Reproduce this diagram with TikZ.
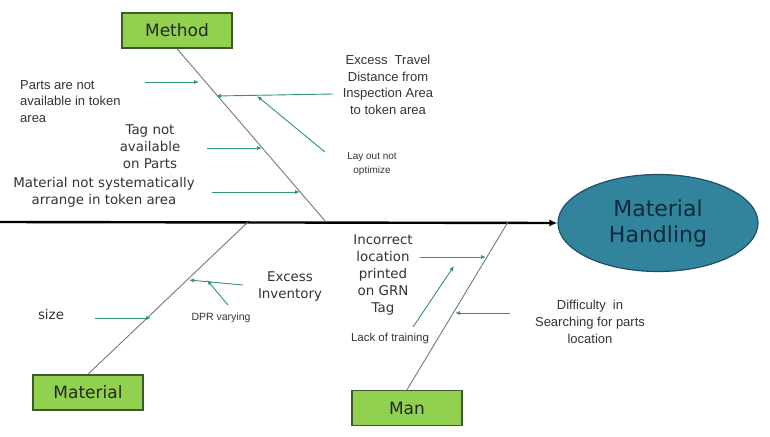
\documentclass[tikz,border=0pt]{standalone}
\usepackage{fontspec}
\setmainfont{Liberation Sans}
\newfontfamily\verd{DejaVu Sans}
\usetikzlibrary{arrows.meta,shapes.geometric}
\definecolor{boxgreen}{HTML}{92D050}
\definecolor{boxline}{HTML}{3F5A2A}
\definecolor{ellfill}{HTML}{31849B}
\definecolor{ellline}{HTML}{1F4E6B}
\definecolor{elltext}{HTML}{0F2A3E}
\definecolor{arrc}{HTML}{2F9470}
\definecolor{bonec}{HTML}{777777}
\definecolor{txt}{HTML}{333333}
\tikzset{
  catbox/.style={draw=boxline, line width=1.5pt, fill=boxgreen, minimum width=110pt, minimum height=35pt, inner sep=0pt, font=\verd\fontsize{17}{20}\selectfont, text=black!85},
  bone/.style={draw=bonec, line width=0.9pt},
  cause/.style={draw=arrc, line width=0.9pt, -{Latex[length=5pt,width=4pt]}},
  vtext/.style={align=center, inner sep=0pt, text=txt, font=\verd\fontsize{13.4}{17}\selectfont},
  atext/.style={align=center, inner sep=0pt, text=txt, font=\fontsize{13}{16.7}\selectfont},
  stext/.style={align=center, inner sep=0pt, text=txt, font=\fontsize{10}{14}\selectfont},
}
\begin{document}
\begin{tikzpicture}[x=1pt,y=-1pt]
\useasboundingbox (0,0) rectangle (770,436);
% effect
\node[ellipse, draw=ellline, line width=1.2pt, fill=ellfill, minimum width=200pt, minimum height=97pt, inner sep=0pt, align=center, text=elltext, font=\verd\fontsize{22}{26}\selectfont] (effect) at (658,223) {Material\\Handling};
\coordinate (spinestart) at (0,222);
\draw[line width=2.4pt, -{Latex[length=8pt,width=7pt]}] (spinestart) -- (effect.west);
% categories
\node[catbox] (method) at (177,30.5) {Method};
\node[catbox] (material) at (88,392.5) {Material};
\node[catbox] (man) at (407,408) {Man};
\coordinate (mspine) at (326,222);
\coordinate (matspine) at (248,222);
\coordinate (manspine) at (508,222);
\draw[bone] (method.south) -- (mspine);
\draw[bone] (material.north) -- (matspine);
\draw[bone] (man.north) -- (manspine);
% Method causes
\node[atext, align=left, anchor=west] (parts) at (20,101.5) {Parts are not\\available in token\\area};
\coordinate (partsS) at (145,82); \coordinate (partsE) at (199,82);
\draw[cause] (partsS) -- (partsE);
\node[vtext] (tag) at (150,147) {Tag not\\available\\on Parts};
\coordinate (tagS) at (207,148); \coordinate (tagE) at (262,148);
\draw[cause] (tagS) -- (tagE);
\node[vtext] (mns) at (104,192) {Material not systematically\\arrange in token area};
\coordinate (mnsS) at (212,192); \coordinate (mnsE) at (300,192);
\draw[cause] (mnsS) -- (mnsE);
\node[atext] (travel) at (388,85) {Excess \ Travel\\Distance from\\Inspection Area\\to token area};
\coordinate (travelS) at (333,94); \coordinate (travelE) at (216,96);
\draw[cause] (travelS) -- (travelE);
\node[stext] (layout) at (372,164) {Lay out not\\optimize};
\coordinate (layoutS) at (325,152); \coordinate (layoutE) at (257,96);
\draw[cause] (layoutS) -- (layoutE);
% Material causes
\node[vtext] (size) at (51,315) {size};
\coordinate (sizeS) at (95,318); \coordinate (sizeE) at (151,318);
\draw[cause] (sizeS) -- (sizeE);
\node[vtext] (inv) at (290,287) {Excess\\Inventory};
\coordinate (invS) at (243,285); \coordinate (invE) at (189,280);
\draw[cause] (invS) -- (invE);
\node[stext, font=\fontsize{10.5}{13}\selectfont] (dpr) at (221,318) {DPR varying};
\coordinate (dprS) at (228,305); \coordinate (dprE) at (207,280);
\draw[cause] (dprS) -- (dprE);
% Man causes
\node[vtext] (grn) at (383,275) {Incorrect\\location\\printed\\on GRN\\Tag};
\coordinate (grnS) at (420,257); \coordinate (grnE) at (486,257);
\draw[cause] (grnS) -- (grnE);
\node[atext, font=\fontsize{11.5}{14}\selectfont] (train) at (390,339) {Lack of training};
\coordinate (trainS) at (413,327); \coordinate (trainE) at (454,266);
\draw[cause] (trainS) -- (trainE);
\node[atext] (diff) at (590,322) {Difficulty \ in\\Searching for parts\\location};
\coordinate (diffS) at (510,313); \coordinate (diffE) at (455,313);
\draw[cause] (diffS) -- (diffE);
\end{tikzpicture}
\end{document}
